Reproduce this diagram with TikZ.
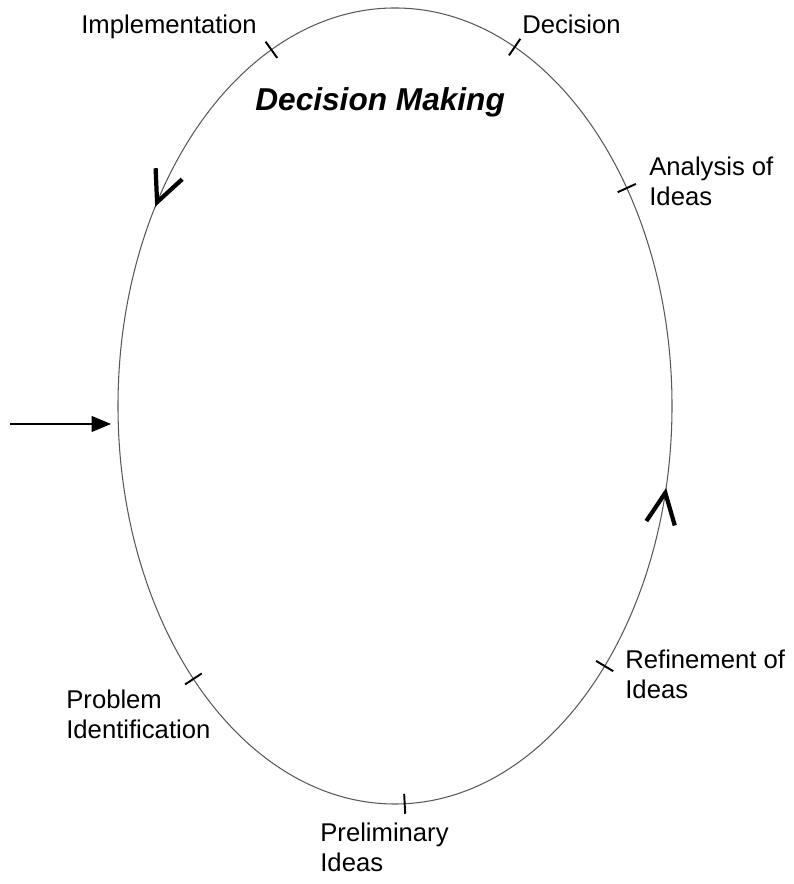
\documentclass[tikz,border=0pt]{standalone}
\usepackage{fontspec}
\setmainfont{Liberation Sans}
\usetikzlibrary{arrows.meta}

\tikzset{
    stage/.style={anchor=north west, inner sep=0pt, align=left,
        font=\fontsize{14.6}{17}\selectfont},
    tickmark/.style={line width=1.1pt, line cap=butt},
    vhead/.style={line width=2.4pt, line join=miter},
}

\begin{document}
\begin{tikzpicture}[x=0.02cm, y=0.02cm]
\useasboundingbox (0,0) rectangle (793,884);

% the cycle
\draw[gray!70!black, line width=0.6pt] (395,478) ellipse [x radius=277, y radius=398];

\begin{scope}[shift={(395,478)}]
% stage marks, drawn across the curve
\foreach \t/\n in {116.5/impl, 64.4/dec, 33.2/anl, -40.8/ref, -88/pre, 223.3/prob} {
    \coordinate (\n) at (\t:277 and 398);
    \pgfmathsetmacro{\a}{atan2(277*sin(\t), 398*cos(\t))}
    \pgfmathsetmacro{\b}{\a+180}
    \draw[tickmark] (\n) ++(\a:10) -- ++(\b:20);
}
% direction of travel
\foreach \t/\n in {149.2/upv, -12.6/dnv} {
    \coordinate (\n) at (\t:277 and 398);
    \pgfmathsetmacro{\g}{atan2(398*cos(\t), -277*sin(\t))}
    \pgfmathsetmacro{\ga}{\g+180+25}
    \pgfmathsetmacro{\gb}{\g+180-25}
    \draw[vhead] (\n) ++(\ga:34) -- (\n) -- ++(\gb:34);
}
\end{scope}

\node[stage] (implL) at (81,869) {Implementation};
\node[stage] (decL) at (522,869) {Decision};
\node[anchor=north west, inner sep=0pt, font=\fontsize{18}{20}\selectfont\bfseries\itshape] (title) at (255,797) {Decision Making};
\node[stage] (anlL) at (649,727) {Analysis of\\Ideas};
\node[stage] (refL) at (625,234) {Refinement of\\Ideas};
\node[stage] (preL) at (320,61) {Preliminary\\Ideas};
\node[stage] (probL) at (66,194) {Problem\\Identification};

% entry into the cycle
\coordinate (start) at (10,460);
\coordinate (entry) at (111,460);
\draw[line width=0.6pt, -{Triangle[length=11pt, width=9pt]}] (start) -- (entry);
\end{tikzpicture}
\end{document}
